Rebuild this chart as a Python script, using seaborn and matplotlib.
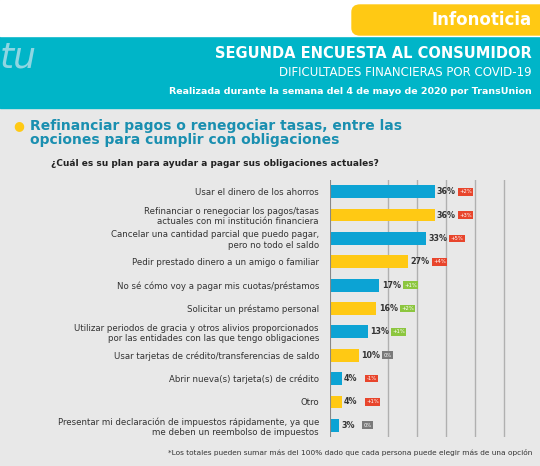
import matplotlib
matplotlib.use("Agg")
import matplotlib.pyplot as plt
import seaborn as sns
import pandas as pd
from matplotlib.patches import FancyBboxPatch, Rectangle

categories = [
    "Usar el dinero de los ahorros",
    "Refinanciar o renegociar los pagos/tasas\nactuales con mi institución financiera",
    "Cancelar una cantidad parcial que puedo pagar,\npero no todo el saldo",
    "Pedir prestado dinero a un amigo o familiar",
    "No sé cómo voy a pagar mis cuotas/préstamos",
    "Solicitar un préstamo personal",
    "Utilizar periodos de gracia y otros alivios proporcionados\npor las entidades con las que tengo obligaciones",
    "Usar tarjetas de crédito/transferencias de saldo",
    "Abrir nueva(s) tarjeta(s) de crédito",
    "Otro",
    "Presentar mi declaración de impuestos rápidamente, ya que\nme deben un reembolso de impuestos",
]
values = [36, 36, 33, 27, 17, 16, 13, 10, 4, 4, 3]
changes = ["+2%", "+3%", "+5%", "+4%", "+1%", "+2%", "+1%", "0%", "-1%", "+1%", "0%"]
change_kind = ["up", "up", "up", "up", "down", "down", "down", "flat", "up", "up", "flat"]

badge_col = {"up": "#E8452C", "down": "#8CC63F", "flat": "#7A7A7A"}
BLUE, YELLOW = "#0CA3D4", "#FFC914"
colors = [BLUE if i % 2 == 0 else YELLOW for i in range(len(values))]

df = pd.DataFrame({"cat": categories, "val": values})
fig = plt.figure(figsize=(5.4, 4.66), dpi=100)
fig.patch.set_facecolor("#E8E8E8")

fig.patches.append(Rectangle((0, 1 - 108/466), 1, 72/466, transform=fig.transFigure, color="#00B5C8", zorder=0))
fig.patches.append(Rectangle((0, 1 - 36/466), 1, 36/466, transform=fig.transFigure, color="white", zorder=0))
fig.patches.append(FancyBboxPatch((352/540, 1 - 35/466), 200/540, 30/466, boxstyle="round,pad=0,rounding_size=0.015",
                                  transform=fig.transFigure, color="#FFC914", zorder=1))
fig.text(0.985, 1 - 20/466, "Infonoticia", ha="right", va="center", color="white", fontsize=12, fontweight="bold")
fig.text(0.985, 1 - 54/466, "SEGUNDA ENCUESTA AL CONSUMIDOR", ha="right", va="center", color="white", fontsize=10.5, fontweight="bold")
fig.text(0.985, 1 - 72/466, "DIFICULTADES FINANCIERAS POR COVID-19", ha="right", va="center", color="white", fontsize=8.5)
fig.text(0.985, 1 - 91/466, "Realizada durante la semana del 4 de mayo de 2020 por TransUnion", ha="right", va="center", color="white", fontsize=6.8, fontweight="bold")
fig.text(0.0, 1 - 58/466, "tu", ha="left", va="center", color="#8FD6E2", fontsize=26, fontstyle="italic")
fig.text(0.025, 1 - 126/466, "●", ha="left", va="center", color="#FFC914", fontsize=9)
fig.text(0.055, 1 - 133/466, "Refinanciar pagos o renegociar tasas, entre las\nopciones para cumplir con obligaciones",
         ha="left", va="center", color="#1A8FB0", fontsize=10, fontweight="bold", linespacing=0.95)
fig.text(0.095, 1 - 163/466, "¿Cuál es su plan para ayudar a pagar sus obligaciones actuales?", ha="left", va="center", color="#222222", fontsize=6.5, fontweight="bold")
fig.text(0.985, 1 - 453/466, "*Los totales pueden sumar más del 100% dado que cada persona puede elegir más de una opción",
         ha="right", va="center", color="#333333", fontsize=5.3)

ax = fig.add_axes([330/540, 1 - 437/466, 180/540, 257/466])
ax.set_facecolor("#E8E8E8")
sns.barplot(data=df, y="cat", x="val", hue="cat", palette=colors, legend=False, ax=ax,
            width=0.55, orient="h", saturation=1)
ax.set_xlim(0, 62)
ax.set_xticks([20, 30, 40, 50, 60])
ax.grid(axis="x", color="#B0B0B0", linewidth=1)
ax.set_axisbelow(True)
ax.tick_params(axis="x", length=0, labelbottom=False)
ax.tick_params(axis="y", length=0, labelsize=6.2, labelcolor="#333333", pad=8)
ax.set_xlabel(""); ax.set_ylabel("")
for s in ax.spines.values():
    s.set_visible(False)
ax.axvline(0, color="#888888", linewidth=0.8)
for i, (v, c, k) in enumerate(zip(values, changes, change_kind)):
    ax.text(v + 0.8, i, f"{v}%", va="center", ha="left", fontsize=5.8, fontweight="bold", color="#333333")
    ax.text(v + 8.5, i, c, va="center", ha="left", fontsize=3.8, color="white",
            bbox=dict(boxstyle="square,pad=0.25", fc=badge_col[k], ec="none"))
fig.savefig("out.png", dpi=100, facecolor=fig.get_facecolor())
